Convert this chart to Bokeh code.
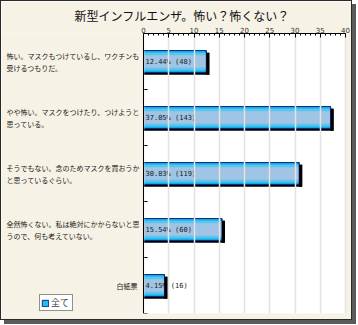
from bokeh.plotting import figure
from bokeh.models import (Range1d, FixedTicker, ColumnDataSource, Legend, LegendItem,
                          BoxAnnotation, Span)
from bokeh.core.properties import value
from bokeh.embed import file_html
from bokeh.resources import INLINE

# ---------------- data ----------------
title_text = "新型インフルエンザ。怖い？怖くない？"
categories = [
    "怖い。マスクもつけているし、ワクチンも\n受けるつもりだ。",
    "やや怖い。マスクをつけたり、つけようと\n思っている。",
    "そうでもない。念のためマスクを買おうか\nと思っているぐらい。",
    "全然怖くない。私は絶対にかからないと思\nうので、何も考えていない。",
    "白紙票",
]
percents = [12.44, 37.05, 30.83, 15.54, 4.15]
counts = [48, 143, 119, 60, 16]
x_ticks = [0, 5, 10, 15, 20, 25, 30, 35, 40]
legend_label = "全て"

# ---------------- layout constants (pixels) ----------------
W, H = 352, 320
PLOT_LEFT_PX = 142      # where value 0 sits
PLOT_RIGHT_PX = 344     # where the last tick sits
TOP_PX, BOTTOM_PX = 32, 8

# ---------------- derived ----------------
n = len(categories)
ys = [i + 0.5 for i in range(n)]
value_labels = [f"{pc:.2f}% ({c})" for pc, c in zip(percents, counts)]
multi = ["\n" in c for c in categories]
cat_align = ["left" if m else "right" for m in multi]
cat_xoff = [-(PLOT_LEFT_PX - 5) if m else -6 for m in multi]

x0, x1 = x_ticks[0], x_ticks[-1]
ppu = (PLOT_RIGHT_PX - PLOT_LEFT_PX) / (x1 - x0)
x_start = x0 - PLOT_LEFT_PX / ppu
x_end = x1 + (W - PLOT_RIGHT_PX) / ppu

SHADOW_DX = 3 / ppu
SHADOW_DY = 0.04
BAR_H = 0.39
TICK_LEN = 4 / ppu

src = ColumnDataSource(dict(
    y=ys, y_sh=[y + SHADOW_DY for y in ys], v=percents,
    v_sh=[v + SHADOW_DX for v in percents], zero=[x0] * n,
    lab=value_labels, cat=categories, align=cat_align, xoff=cat_xoff,
))
bounds = list(range(n + 1))
tick_src = ColumnDataSource(dict(y=bounds, xa=[x0] * len(bounds),
                                 xb=[x0 + TICK_LEN] * len(bounds)))

JP = "Noto Sans CJK JP"
CREAM = "#f6f2e5"
NAVY = "#0c2f86"

p = figure(width=W, height=H, output_backend="svg", toolbar_location=None,
           x_range=Range1d(x_start, x_end), y_range=Range1d(n, 0),
           x_axis_location="above", y_axis_location=None,
           min_border_left=0, min_border_right=0,
           min_border_top=TOP_PX, min_border_bottom=BOTTOM_PX,
           background_fill_color=CREAM, border_fill_color=CREAM,
           outline_line_color=None)
p.styles = {"border": "1px solid #2a2a2a", "box-shadow": "4px 4px 0 #5a5a5a"}

# white plotting area
p.add_layout(BoxAnnotation(left=x0, right=x1, fill_color="white", fill_alpha=1,
                           line_color=None, level="underlay"))

# title
p.title.text = title_text
p.title.align = "left"
p.title.offset = 73
p.title.text_font = JP
p.title.text_font_size = "12px"
p.title.text_font_style = "normal"
p.title.text_color = "#111111"
p.title.standoff = 0

# x axis (top)
p.xaxis.ticker = FixedTicker(ticks=x_ticks, minor_ticks=list(range(x0, x1 + 1)))
p.xaxis.bounds = (x0, x1)
p.xaxis.major_label_text_font = "DejaVu Sans"
p.xaxis.major_label_text_font_size = "7px"
p.xaxis.major_label_text_color = "#333333"
p.xaxis.major_label_standoff = 1
p.xaxis.major_tick_in = 4
p.xaxis.major_tick_out = 0
p.xaxis.minor_tick_in = 2
p.xaxis.minor_tick_out = 0
p.xaxis.axis_line_color = "black"

p.xgrid.grid_line_color = "#e3e3e3"
p.xgrid.grid_line_width = 1.5
p.xgrid.level = "glyph"
p.ygrid.visible = False

# left axis line and category-boundary ticks
p.add_layout(Span(location=x0, dimension="height", line_color="black", line_width=1))
p.segment(x0="xa", y0="y", x1="xb", y1="y", source=tick_src,
          line_color="black", line_width=1)

# shadow
p.hbar(y="y_sh", left="zero", right="v_sh", height=BAR_H, source=src,
       fill_color="black", line_color=None)
# bars (layered gradient)
bar = p.hbar(y="y", left="zero", right="v", height=BAR_H, source=src,
             fill_color="#1ec0f4", line_color=NAVY, line_width=1)
p.hbar(y="y", left="zero", right="v", height=BAR_H * 0.78, source=src,
       fill_color="#5ec3ee", line_color=None)
p.hbar(y="y", left="zero", right="v", height=BAR_H * 0.58, source=src,
       fill_color="#a0c4e4", line_color=None)
p.hbar(y="y", left="zero", right="v", height=BAR_H, source=src,
       fill_color=None, line_color=NAVY, line_width=1)

# value labels
p.text(x="zero", y="y", text="lab", source=src, x_offset=2,
       text_font=value("DejaVu Sans Mono"), text_font_size="7px",
       text_color="#1a1a1a", text_baseline="middle", text_align="left")
# right shadow strip drawn over text
p.hbar(y="y_sh", left="v", right="v_sh", height=BAR_H, source=src,
       fill_color="black", line_color=None)

# category labels
p.text(x="zero", y="y", text="cat", source=src, x_offset="xoff",
       text_align="align", text_font=value(JP), text_font_size="7px",
       text_color="#1a1a1a", text_baseline="middle", text_line_height=1.2)

legend = Legend(items=[LegendItem(label=legend_label, renderers=[bar])],
                location=(38, 2), orientation="vertical",
                label_text_font=JP, label_text_font_size="9px",
                glyph_width=8, glyph_height=8, label_standoff=2,
                label_height=9, padding=1, margin=0, spacing=0,
                border_line_color="#222222", background_fill_color="white",
                background_fill_alpha=1)
p.add_layout(legend)

open("out.html", "w").write(file_html(p, INLINE))
